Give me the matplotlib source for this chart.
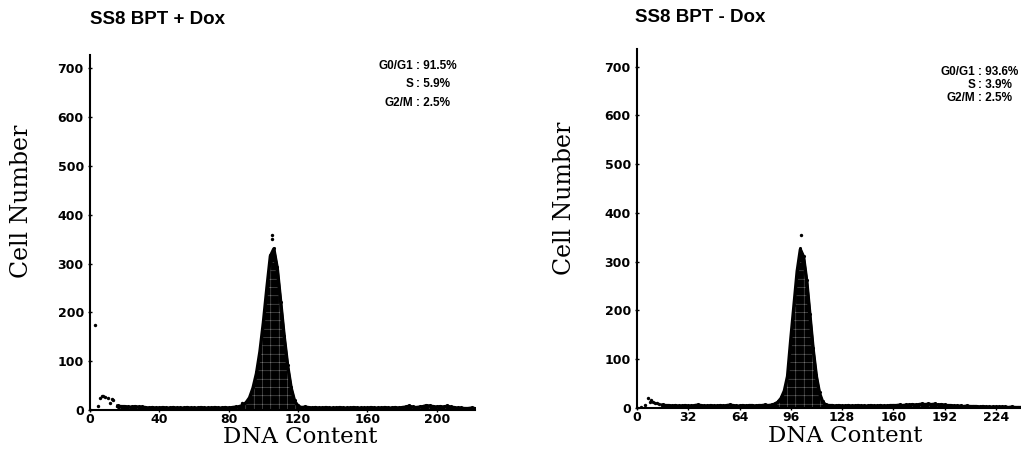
import numpy as np
import matplotlib
matplotlib.use('Agg')
import matplotlib.pyplot as plt

#  Histogram channels (2 units per bin), floor + G0/G1 peak
left_start = 16
left_counts = [8, 7, 7, 6, 6, 7, 6, 6,
               5, 4, 5, 4, 4, 5, 4, 4, 5, 4, 4, 4, 5, 4, 4, 4, 5, 4, 4, 4, 5, 4, 4, 5, 4, 5, 6,
               6, 10, 15, 25, 45, 75, 120, 180, 250, 315, 330, 290, 220, 150, 90, 45, 18, 8,
               5, 6, 5, 4, 5, 4, 4, 5, 4, 4, 4, 5, 4, 4, 4, 5, 4, 4, 4, 4, 5, 4,
               4, 4, 5, 4, 4, 5, 4, 5, 6, 8, 6, 5, 6, 7, 9, 8, 7, 6, 7, 6, 8, 6, 5, 4, 4, 3, 3, 4, 3]
right_start = 16
right_counts = [6, 5, 5, 4, 5, 4, 4, 5, 4, 4, 5, 6, 5, 4, 4, 5, 4, 4, 5, 4, 5, 6, 5, 4, 4, 5, 4, 5, 5, 4,
                5, 5, 6, 5, 6, 8,
                12, 20, 35, 65, 140, 210, 280, 325, 310, 260, 190, 120, 65, 30, 12, 6,
                5, 5, 4, 5, 4, 4, 5, 4, 4, 5, 4, 4, 4, 5, 4, 4, 5, 4, 4, 5,
                5, 5, 6, 5, 6, 6, 7, 6, 7, 8, 7, 8, 7, 8, 6, 7, 6, 5, 5, 4,
                4, 4, 3, 4, 3, 3, 3, 2, 3, 2, 2, 2, 2, 2, 2, 2, 1, 2, 1, 1, 1, 1, 1, 1, 1, 1, 1, 1]
#  Sparse events (debris and stray dots)
left_dots_x = [2.9, 4.8, 5.8, 6.8, 7.7, 8.6, 10.4, 11.5, 12.4, 13.5, 15.4, 86.0, 87.5, 104.8, 104.8]
left_dots_y = [174, 8, 24, 28, 29, 27, 24, 14, 22, 20, 9, 8, 14, 358, 350]
right_dots_x = [2.5, 5.0, 7.0, 8.1, 9.0, 10.2, 11.3, 12.3, 13.5, 15.4, 102.1]
right_dots_y = [2, 6, 20, 13, 16, 13, 11, 10, 8, 6, 355]

phases = ['G0/G1', 'S', 'G2/M']
left_pct = [91.5, 5.9, 2.5]
right_pct = [93.6, 3.9, 2.5]

left_xticks = [0, 40, 80, 120, 160, 200]
right_xticks = [0, 32, 64, 96, 128, 160, 192, 224]
yticks = [0, 100, 200, 300, 400, 500, 600, 700]

plt.rcParams['hatch.linewidth'] = 0.3
W, H = 1021, 449
fig = plt.figure(figsize=(W / 100, H / 100), dpi=100)


def panel(rect, start, counts, dots_x, dots_y, xticks, xmax, ymax, xlab_pos, ylab_pos):
    ax = fig.add_axes(rect)
    x = start + 2 * np.arange(len(counts))
    y = np.array(counts)
    ax.fill_between(x, y, color='black', lw=1.2)
    ax.fill_between(x, y * 0.93, facecolor='none', edgecolor=(1, 1, 1, 0.55),
                    hatch='++', lw=0)
    ax.plot(x, y, color='black', lw=2.4)
    ax.scatter(x, y + 2, s=5, c='black', lw=0)
    ax.scatter(dots_x, dots_y, s=6, c='black', lw=0)
    ax.set_xlim(0, xmax)
    ax.set_ylim(0, ymax)
    for s in ['top', 'right']:
        ax.spines[s].set_visible(False)
    for s in ['left', 'bottom']:
        ax.spines[s].set_linewidth(1.5)
    ax.set_xticks(xticks)
    ax.set_yticks(yticks)
    ax.tick_params(direction='inout', length=3, width=1, pad=1,
                   labelsize=9)
    ax.tick_params(axis='y', pad=3)
    for lab in ax.get_xticklabels() + ax.get_yticklabels():
        lab.set_fontweight('bold')
    ax.set_xlabel('DNA Content', family='DejaVu Serif', fontsize=16.5)
    ax.set_ylabel('Cell Number', family='DejaVu Serif', fontsize=17)
    ax.xaxis.set_label_coords(*xlab_pos)
    ax.xaxis.label.set_va('center')
    ax.yaxis.set_label_coords(*ylab_pos)
    ax.yaxis.label.set_va('center')
    return ax


ax1 = panel([90 / W, 1 - 410 / H, 385 / W, 355 / H], left_start, left_counts,
            left_dots_x, left_dots_y, left_xticks, 222, 727,
            (0.545, -0.076), (-0.177, 0.589))
ax2 = panel([637 / W, 1 - 408 / H, 410 / W, 359 / H], right_start, right_counts,
            right_dots_x, right_dots_y, right_xticks, 256, 736,
            (0.507, -0.078), (-0.176, 0.585))

fig.text(90 / W, 1 - 19 / H, 'SS8 BPT + Dox', family='Liberation Sans',
         fontweight='bold', fontsize=13.5, va='center', ha='left')
fig.text(635 / W, 1 - 17 / H, 'SS8 BPT - Dox', family='Liberation Sans',
         fontweight='bold', fontsize=13.5, va='center', ha='left')

#  Cell cycle phase percentages
for colon_x, rows, pcts in [(417, [66, 84, 103], left_pct), (979, [72, 85, 98], right_pct)]:
    for name, yy, p in zip(phases, rows, pcts):
        fig.text((colon_x - 4) / W, 1 - yy / H, name, family='Liberation Sans',
                 fontweight='bold', fontsize=8.5, ha='right', va='center')
        fig.text((colon_x - 1.5) / W, 1 - yy / H, ': %.1f%%' % p, family='Liberation Sans',
                 fontweight='bold', fontsize=8.5, ha='left', va='center')

fig.savefig('out.png', dpi=100)
